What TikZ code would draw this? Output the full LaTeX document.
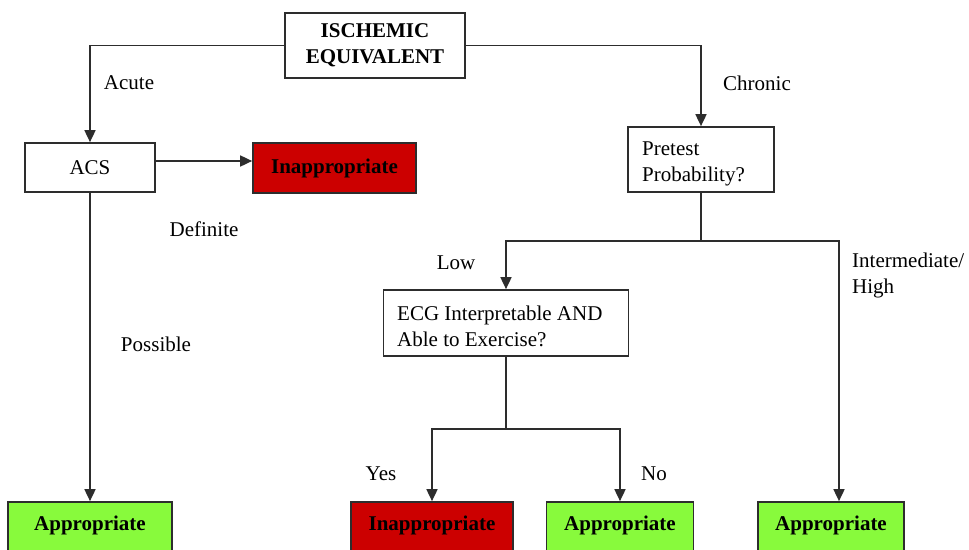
\documentclass[tikz,border=0pt]{standalone}
\usepackage{fontspec}
\setmainfont{Liberation Serif}
\usetikzlibrary{arrows.meta}
\definecolor{linec}{RGB}{45,45,45}
\definecolor{redbox}{RGB}{204,0,0}
\definecolor{greenbox}{RGB}{136,250,60}
\tikzset{
  every node/.style={font=\fontsize{21}{26}\selectfont},
  box/.style={draw=linec, line width=1.7pt, rectangle, inner sep=0pt, fill=white},
  redb/.style={box, fill=redbox, font=\fontsize{21}{26}\selectfont\bfseries},
  greenb/.style={box, fill=greenbox, font=\fontsize{21}{26}\selectfont\bfseries, text height=14pt, text depth=9pt},
  conn/.style={draw=linec, line width=1.7pt},
  arr/.style={conn, -{Triangle[length=12pt,width=11pt]}},
  lbl/.style={inner sep=0pt}
}
\begin{document}
\begin{tikzpicture}[x=1pt,y=-1pt]
\clip (0,0) rectangle (969,549);
\fill[white] (0,0) rectangle (969,549);
% nodes
\node[box, minimum width=180pt, minimum height=65pt, align=center, font=\fontsize{21}{26}\selectfont\bfseries] (isch) at (375,45.5) {ISCHEMIC\\EQUIVALENT};
\node[box, minimum width=130pt, minimum height=49pt] (acs) at (90,167.5) {ACS};
\node[redb, minimum width=163pt, minimum height=50pt] (inap1) at (334.5,168) {Inappropriate};
\node[box, minimum width=146pt, minimum height=65pt] (pre) at (701,159.5) {};
\node[lbl, anchor=west, align=left] (pretext) at (642,164) {Pretest\\Probability?};
\node[box, minimum width=245pt, minimum height=66pt] (ecg) at (506,323) {};
\node[lbl, anchor=west, align=left] (ecgtext) at (397,326) {ECG Interpretable AND\\Able to Exercise?};
\node[greenb, minimum width=164pt, minimum height=52pt] (app1) at (90,528) {Appropriate};
\node[redb, minimum width=162pt, minimum height=52pt, text height=14pt, text depth=9pt] (inap2) at (432,528) {Inappropriate};
\node[greenb, minimum width=147pt, minimum height=52pt] (app2) at (620,528) {Appropriate};
\node[greenb, minimum width=146pt, minimum height=52pt] (app3) at (831,528) {Appropriate};
% connectors
\draw[arr] (isch.west) -| (acs.north);
\draw[arr] (isch.east) -| (pre.north);
\draw[arr] (acs.east |- 0,161) -- (inap1.west |- 0,161);
\draw[arr] (acs.south) -- (app1.north);
\coordinate (s1) at (701,241);
\coordinate (s1r) at (839,241);
\draw[conn] (pre.south) -- (s1);
\draw[arr] (s1) -| (ecg.north);
\draw[arr] (s1) -- (s1r) -- (s1r |- app3.north);
\coordinate (s2) at (506,429);
\draw[conn] (ecg.south) -- (s2);
\draw[arr] (s2) -| (inap2.north);
\draw[arr] (s2) -| (app2.north);
% labels
\node[lbl] (lacute) at (129,83) {Acute};
\node[lbl] (lchronic) at (757,83) {Chronic};
\node[lbl] (ldef) at (204,229) {Definite};
\node[lbl] (lposs) at (156,344) {Possible};
\node[lbl] (llow) at (456,263) {Low};
\node[lbl, anchor=west, align=left] (linter) at (852,275) {Intermediate/\\High};
\node[lbl] (lyes) at (381,474) {Yes};
\node[lbl] (lno) at (654,474) {No};
\end{tikzpicture}
\end{document}
